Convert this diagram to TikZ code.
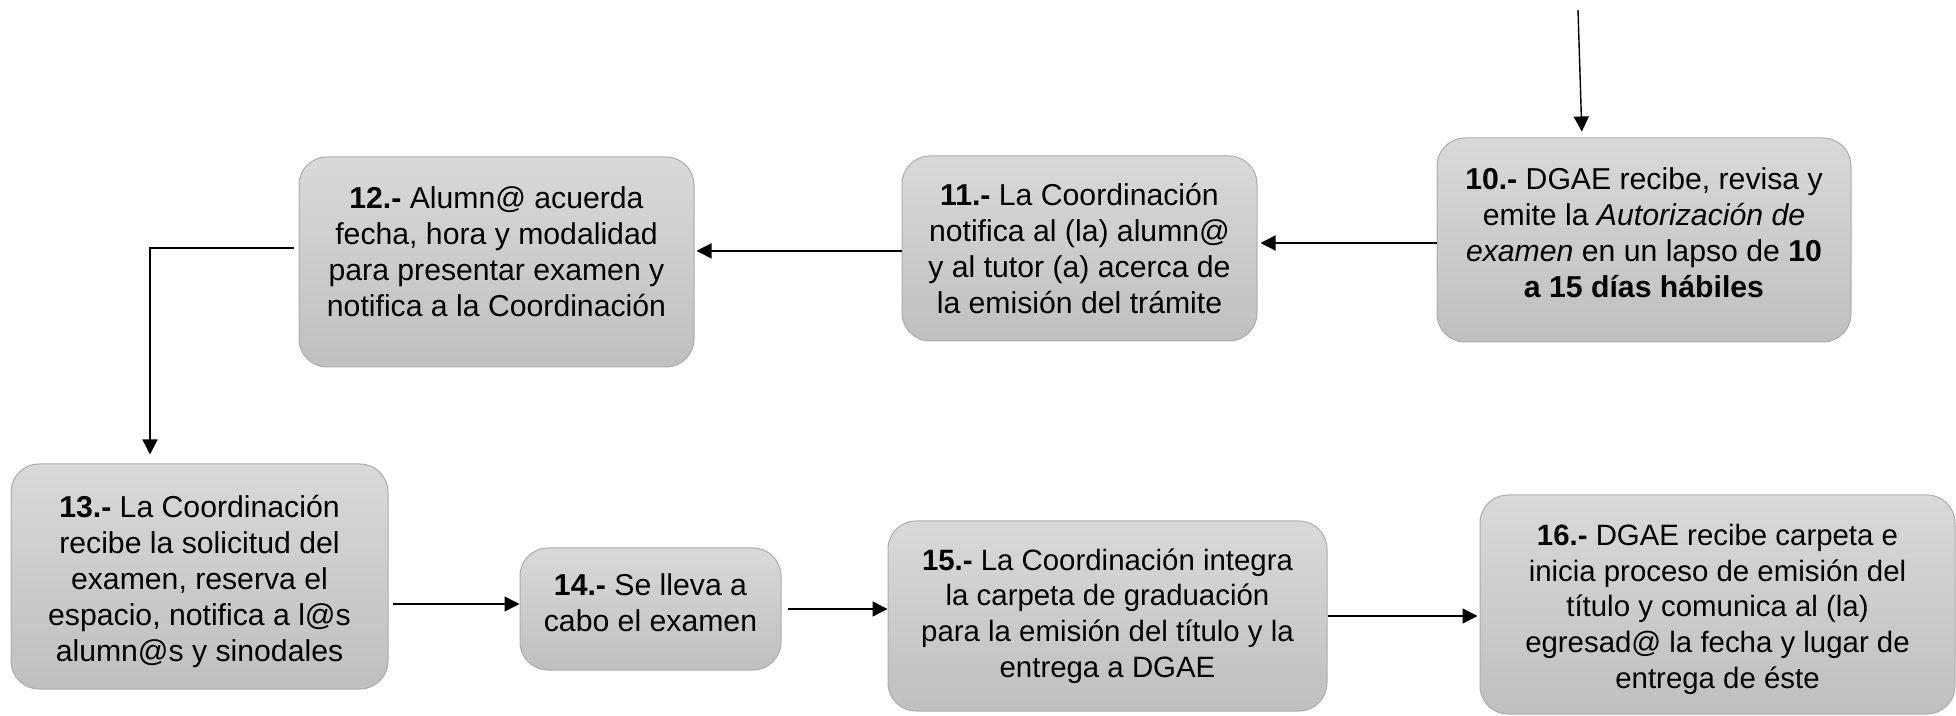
\documentclass[tikz,border=0pt]{standalone}
\usepackage{fontspec}
\setmainfont{Liberation Sans}
\usetikzlibrary{arrows.meta}

\begin{document}
\begin{tikzpicture}[
  x=0.5pt, y=-0.5pt,
  paso/.style={draw=gray!65, line width=0.5pt, rounded corners=14pt,
    top color=gray!30, bottom color=gray!50, inner sep=0pt,
    align=center, font=\fontsize{15.1}{18}\selectfont},
  angosto/.style={font=\fontsize{14.7}{17.9}\selectfont},
  flecha/.style={line width=0.7pt, -{Triangle[length=7.5pt,width=7.5pt]}}
]
\useasboundingbox (0,0) rectangle (1956,716);

\node [paso, minimum width=207pt, minimum height=102pt] (p10) at (1644,240)
  {\textbf{10.-} DGAE recibe, revisa y\\ emite la \textit{Autorización de}\\
   \textit{examen} en un lapso de \textbf{10}\\ \textbf{a 15 días hábiles}\rule[-7.5pt]{0pt}{0pt}};
\node [paso, minimum width=177.5pt, minimum height=92.5pt] (p11) at (1079.5,248.5)
  {\textbf{11.-} La Coordinación\\ notifica al (la) alumn@\\ y al tutor (a) acerca de\\ la emisión del trámite};
\node [paso, minimum width=197.5pt, minimum height=105pt] (p12) at (496.5,262)
  {\textbf{12.-} Alumn@ acuerda\\ fecha, hora y modalidad\\ para presentar examen y\\ notifica a la Coordinación\rule[-10pt]{0pt}{0pt}};
\node [paso, minimum width=188.5pt, minimum height=112.5pt] (p13) at (199.5,576.5)
  {\rule{0pt}{16pt}\textbf{13.-} La Coordinación\\ recibe la solicitud del\\ examen, reserva el\\ espacio, notifica a l@s\\ alumn@s y sinodales};
\node [paso, minimum width=130.5pt, minimum height=61pt] (p14) at (650.5,609)
  {\textbf{14.-} Se lleva a\\ cabo el examen\rule[-6pt]{0pt}{0pt}};
\node [paso, angosto, minimum width=219.5pt, minimum height=95pt] (p15) at (1107.5,616)
  {\textbf{15.-} La Coordinación integra\\ la carpeta de graduación\\ para la emisión del título y la\\ entrega a DGAE};
\node [paso, angosto, minimum width=237.5pt, minimum height=109.5pt] (p16) at (1717.5,604.5)
  {\rule{0pt}{15.5pt}\textbf{16.-} DGAE recibe carpeta e\\ inicia proceso de emisión del\\ título y comunica al (la)\\ egresad@ la fecha y lugar de\\ entrega de éste};

\coordinate (entrada) at (1578,10);

\draw [flecha, shorten >=3pt] (entrada) -- ([xshift=-31pt]p10.north);
\draw [flecha, shorten >=1.5pt] ([yshift=-1.5pt]p10.west) -- ([yshift=-1.5pt]p10.west -| p11.east);
\draw [flecha, shorten >=1pt] ([yshift=-1.2pt]p11.west) -- ([yshift=-1.2pt]p11.west -| p12.east);
\draw [flecha, shorten >=4.5pt] ([xshift=-2.5pt,yshift=7pt]p12.west) -| ([xshift=-24.75pt]p13.north);
\draw [flecha, shorten <=2pt] ([yshift=2.5pt]p13.east |- p14.west) -- ([yshift=2.5pt]p14.west);
\draw [flecha, shorten <=3pt] (p14.east) -- (p14.east -| p15.west);
\draw [flecha, shorten >=1pt] (p15.east) -- (p15.east -| p16.west);
\end{tikzpicture}
\end{document}
